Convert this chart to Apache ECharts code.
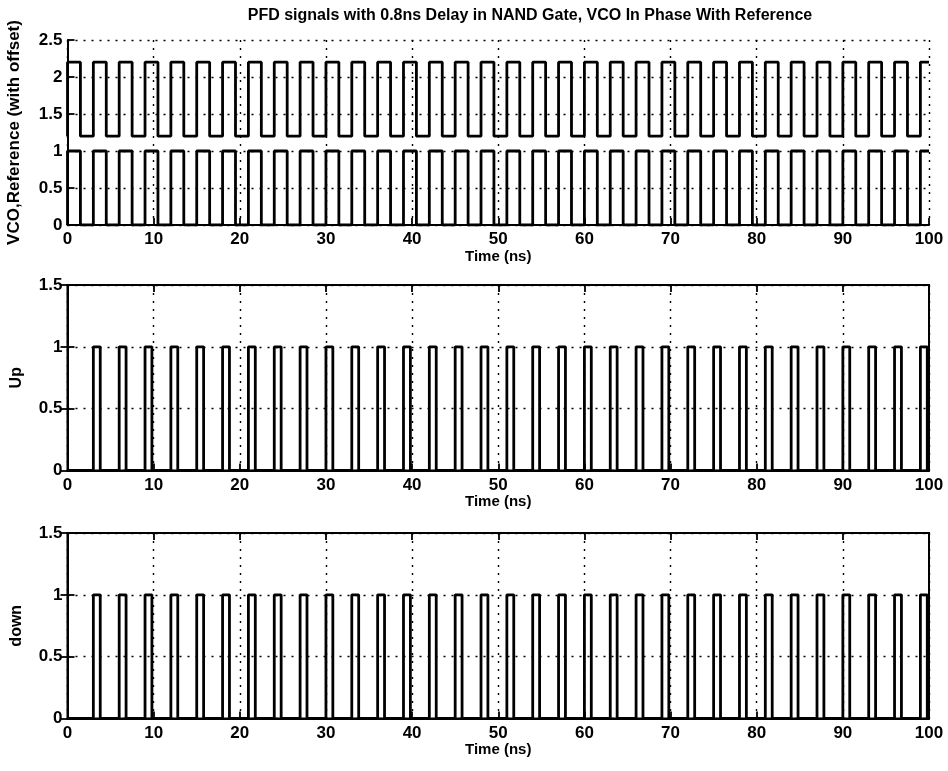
<!DOCTYPE html>
<html><head><meta charset="utf-8">
<script src="https://cdn.jsdelivr.net/npm/echarts@6/dist/echarts.min.js"></script>
<style>html,body{margin:0;padding:0;background:#fff}#c{width:948px;height:771px}</style>
</head><body><div id="c"></div><script>
const titleText = 'PFD signals with 0.8ns Delay in NAND Gate, VCO In Phase With Reference';
const xLabel = 'Time (ns)';
const yLabels = ['VCO,Reference (with offset)', 'Up', 'down'];
const xMin = 0, xMax = 100, xStep = 10;
const yTopMax = 2.5, yLowMax = 1.5, yStep = 0.5;

// reference clock (offset +1.2) edges, ns
const refRise = [0,3,6,9,12,15,18,21,24,27,30,33,36,39,42,45,48,51,54,57,60,63,66,69,72,75,78,81,84,87,90,93,96,99];
const refFall = [1.5,4.5,7.5,10.5,13.5,16.5,19.5,22.5,25.5,28.5,31.5,34.5,37.5,40.5,43.5,46.5,49.5,52.5,55.5,58.5,61.5,64.5,67.5,70.5,73.5,76.5,79.5,82.5,85.5,88.5,91.5,94.5,97.5];
const refLow = 1.2, refHigh = 2.2;
// VCO edges, ns (in phase with reference)
const vcoRise = [0,3,6,9,12,15,18,21,24,27,30,33,36,39,42,45,48,51,54,57,60,63,66,69,72,75,78,81,84,87,90,93,96,99];
const vcoFall = [1.5,4.5,7.5,10.5,13.5,16.5,19.5,22.5,25.5,28.5,31.5,34.5,37.5,40.5,43.5,46.5,49.5,52.5,55.5,58.5,61.5,64.5,67.5,70.5,73.5,76.5,79.5,82.5,85.5,88.5,91.5,94.5,97.5];
const vcoLow = 0, vcoHigh = 1;
// Up pulses
const upRise = [3,6,9,12,15,18,21,24,27,30,33,36,39,42,45,48,51,54,57,60,63,66,69,72,75,78,81,84,87,90,93,96,99];
const upFall = [3.8,6.8,9.8,12.8,15.8,18.8,21.8,24.8,27.8,30.8,33.8,36.8,39.8,42.8,45.8,48.8,51.8,54.8,57.8,60.8,63.8,66.8,69.8,72.8,75.8,78.8,81.8,84.8,87.8,90.8,93.8,96.8,99.8];
// Down pulses
const downRise = [3,6,9,12,15,18,21,24,27,30,33,36,39,42,45,48,51,54,57,60,63,66,69,72,75,78,81,84,87,90,93,96,99];
const downFall = [3.8,6.8,9.8,12.8,15.8,18.8,21.8,24.8,27.8,30.8,33.8,36.8,39.8,42.8,45.8,48.8,51.8,54.8,57.8,60.8,63.8,66.8,69.8,72.8,75.8,78.8,81.8,84.8,87.8,90.8,93.8,96.8,99.8];
const pulseLow = 0, pulseHigh = 1;

function wave(rise, fall, lo, hi) {
  const pts = [[xMin, lo]];
  for (let i = 0; i < rise.length; i++) {
    const r = rise[i];
    const f = fall[i] !== undefined ? fall[i] : xMax;
    pts.push([r, lo], [r, hi], [f, hi]);
    if (fall[i] !== undefined) pts.push([f, lo]);
  }
  if (pts[pts.length - 1][1] === lo) pts.push([xMax, lo]);
  return pts;
}

const FONT = '"Liberation Sans", Arial, Helvetica, sans-serif';
const grids = [
  {left: 67.5, top: 40, width: 861.5, height: 185, show: false, containLabel: false, outerBoundsMode: 'none'},
  {left: 67.5, top: 285, width: 861.5, height: 185.5, show: true, borderColor: '#000', borderWidth: 2, containLabel: false, outerBoundsMode: 'none'},
  {left: 67.5, top: 533, width: 861.5, height: 185.5, show: true, borderColor: '#000', borderWidth: 2, containLabel: false, outerBoundsMode: 'none'}
];
const gridLine = {show: true, lineStyle: {color: '#000', type: [2, 6], width: 1.4}};
const tickStyle = {show: true, inside: true, length: 7, lineStyle: {color: '#000', width: 1.8}};
const nameStyle = (s) => ({color: '#000', fontFamily: FONT, fontWeight: 'bold', fontSize: s});
function xAxis(i) {
  return {
    gridIndex: i, type: 'value', min: xMin, max: xMax, interval: xStep,
    name: xLabel, nameLocation: 'middle', nameGap: 21,
    nameTextStyle: nameStyle(15),
    axisLine: {show: true, onZero: false, lineStyle: {color: '#000', width: 2}},
    axisTick: tickStyle,
    axisLabel: {color: '#000', fontFamily: FONT, fontWeight: 'bold', fontSize: 17, margin: 6},
    splitLine: gridLine
  };
}
function xTop(i) {
  return {
    gridIndex: i, type: 'value', position: 'top', min: xMin, max: xMax, interval: xStep,
    axisLine: {show: true, onZero: false, lineStyle: {color: '#000', width: 2}},
    axisTick: tickStyle, axisLabel: {show: false}, splitLine: {show: false}
  };
}
function yAxis(i, max, name, gap, fs) {
  return {
    gridIndex: i, type: 'value', min: 0, max: max, interval: yStep,
    name: name, nameLocation: 'middle', nameGap: gap, nameRotate: 90,
    nameTextStyle: nameStyle(fs),
    axisLine: {show: true, lineStyle: {color: '#000', width: 2}},
    axisTick: tickStyle,
    axisLabel: {color: '#000', fontFamily: FONT, fontWeight: 'bold', fontSize: 17, margin: 5},
    splitLine: gridLine
  };
}
function yRight(i, max) {
  return {
    gridIndex: i, type: 'value', position: 'right', min: 0, max: max, interval: yStep,
    axisLine: {show: true, lineStyle: {color: '#000', width: 2}},
    axisTick: tickStyle, axisLabel: {show: false}, splitLine: {show: false}
  };
}
function series(name, xi, data) {
  return {
    name: name, type: 'line', xAxisIndex: xi, yAxisIndex: xi, data: data,
    showSymbol: false, symbol: 'none', animation: false,
    lineStyle: {color: '#000', width: 2.8}, itemStyle: {color: '#000'}
  };
}

const chart = echarts.init(document.getElementById('c'), null, {renderer: 'canvas'});
chart.setOption({
  backgroundColor: '#fff',
  animation: false,
  title: {
    text: titleText, left: 525, top: 3, textAlign: 'center',
    textStyle: {color: '#000', fontFamily: FONT, fontWeight: 'bold', fontSize: 16}
  },
  grid: grids,
  xAxis: [xAxis(0), xAxis(1), xAxis(2), xTop(1), xTop(2)],
  yAxis: [yAxis(0, yTopMax, yLabels[0], 45, 17), yAxis(1, yLowMax, yLabels[1], 43, 16), yAxis(2, yLowMax, yLabels[2], 43, 16), yRight(1, yLowMax), yRight(2, yLowMax)],
  series: [
    series('Reference', 0, wave(refRise, refFall, refLow, refHigh)),
    series('VCO', 0, wave(vcoRise, vcoFall, vcoLow, vcoHigh)),
    series('Up', 1, wave(upRise, upFall, pulseLow, pulseHigh)),
    series('down', 2, wave(downRise, downFall, pulseLow, pulseHigh))
  ]
});
</script></body></html>
